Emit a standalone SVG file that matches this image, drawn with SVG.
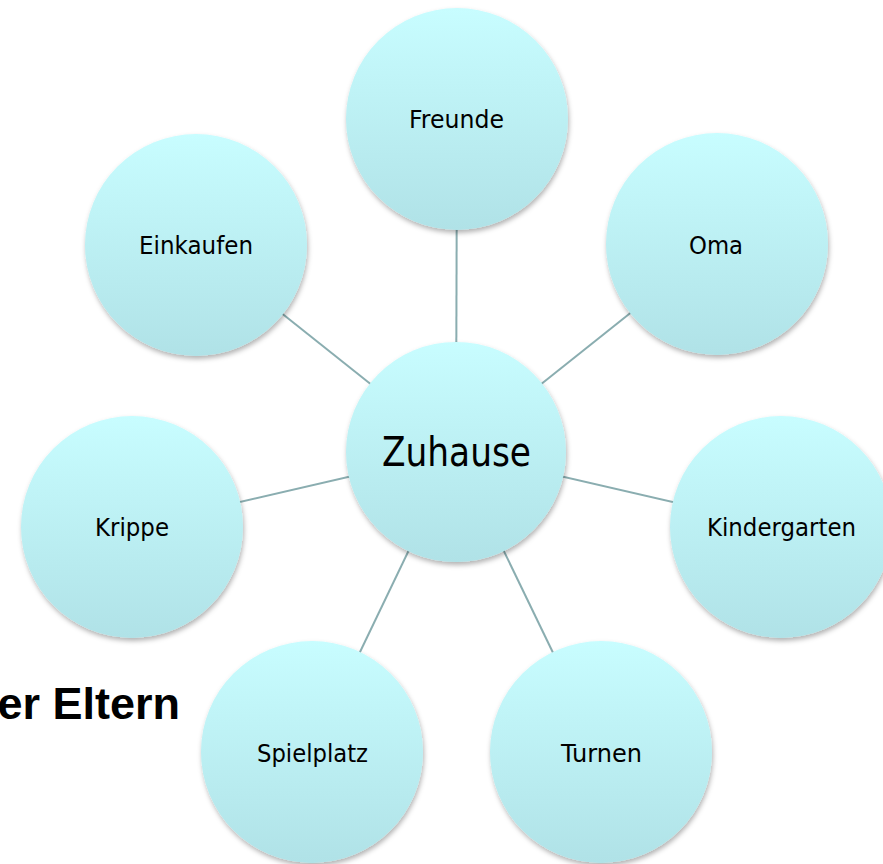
<svg xmlns="http://www.w3.org/2000/svg" width="883" height="864" viewBox="0 0 883 864">
<defs>
<linearGradient id="g" x1="0" y1="0" x2="0" y2="1">
<stop offset="0" stop-color="#c8fdff"/>
<stop offset="1" stop-color="#b0e2e7"/>
</linearGradient>
<filter id="sh" x="-20%" y="-20%" width="140%" height="140%">
<feDropShadow dx="1" dy="3" stdDeviation="2.5" flood-color="#000" flood-opacity="0.3"/>
</filter>
<style>
.c{fill:url(#g);filter:url(#sh)}
.t{font-family:"DejaVu Sans",Verdana,sans-serif;font-size:25px;fill:#000;text-anchor:middle}
.big{font-size:40px}
.ln{stroke:#8aadb0;stroke-width:2;fill:none}
.h{font-family:"Liberation Sans",Arial,sans-serif;font-weight:bold;font-size:45px;fill:#000;text-anchor:end}
</style>
</defs>
<rect width="883" height="864" fill="#fff"/>
<text class="h" x="180" y="719">er Eltern</text>
<g id="connectors">
<line class="ln" x1="456" y1="452" x2="457" y2="119"/>
<line class="ln" x1="456" y1="452" x2="717" y2="244"/>
<line class="ln" x1="456" y1="452" x2="196" y2="245"/>
<line class="ln" x1="456" y1="452" x2="132" y2="527"/>
<line class="ln" x1="456" y1="452" x2="781" y2="527"/>
<line class="ln" x1="456" y1="452" x2="312" y2="752"/>
<line class="ln" x1="456" y1="452" x2="601" y2="752"/>
</g>
<g id="freunde"><circle class="c" cx="457" cy="119" r="111"/><text class="t" x="456.5" y="128" textLength="95" lengthAdjust="spacingAndGlyphs">Freunde</text></g>
<g id="oma"><circle class="c" cx="717" cy="244" r="111"/><text class="t" x="716" y="254" textLength="54" lengthAdjust="spacingAndGlyphs">Oma</text></g>
<g id="einkaufen"><circle class="c" cx="196" cy="245" r="111"/><text class="t" x="196" y="254" textLength="114" lengthAdjust="spacingAndGlyphs">Einkaufen</text></g>
<g id="krippe"><circle class="c" cx="132" cy="527" r="111"/><text class="t" x="132" y="536" textLength="74" lengthAdjust="spacingAndGlyphs">Krippe</text></g>
<g id="kindergarten"><circle class="c" cx="781" cy="527" r="111"/><text class="t" x="781.5" y="536" textLength="149" lengthAdjust="spacingAndGlyphs">Kindergarten</text></g>
<g id="spielplatz"><circle class="c" cx="312" cy="752" r="111"/><text class="t" x="312.5" y="762" textLength="111" lengthAdjust="spacingAndGlyphs">Spielplatz</text></g>
<g id="turnen"><circle class="c" cx="601" cy="752" r="111"/><text class="t" x="601.5" y="762" textLength="81" lengthAdjust="spacingAndGlyphs">Turnen</text></g>
<g id="zuhause"><circle class="c" cx="456" cy="452" r="110"/><text class="t big" x="456.5" y="466" textLength="149" lengthAdjust="spacingAndGlyphs">Zuhause</text></g>
</svg>
